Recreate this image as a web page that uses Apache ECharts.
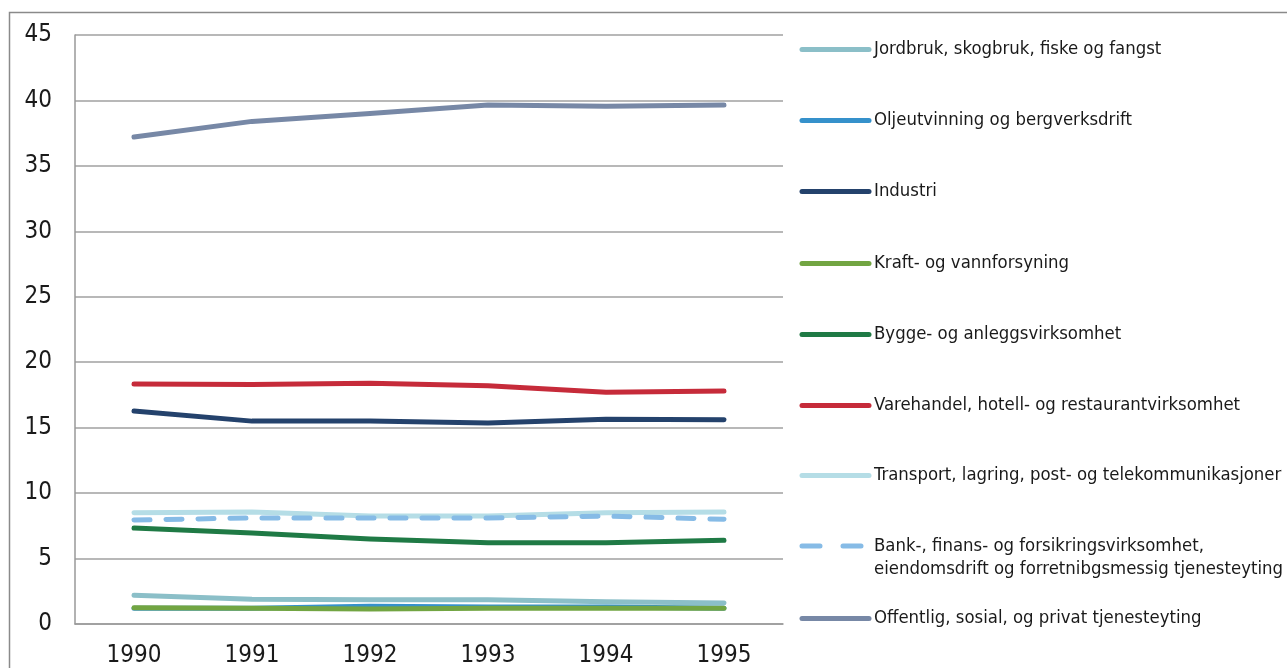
<!DOCTYPE html>
<html>
<head>
<meta charset="utf-8">
<script src="https://cdn.jsdelivr.net/npm/echarts@6/dist/echarts.min.js"></script>
<style>
  html, body { margin: 0; padding: 0; background: #fff; }
  #chart { width: 1287px; height: 668px; }
</style>
</head>
<body>
<div id="chart"></div>
<script>
  var years = ['1990', '1991', '1992', '1993', '1994', '1995'];

  var jordbruk   = [2.2, 1.9, 1.85, 1.85, 1.7, 1.6];
  var olje       = [1.2, 1.2, 1.35, 1.3, 1.3, 1.2];
  var industri   = [16.27, 15.5, 15.5, 15.35, 15.65, 15.6];
  var kraft      = [1.25, 1.2, 1.15, 1.2, 1.2, 1.2];
  var bygge      = [7.33, 6.95, 6.5, 6.2, 6.2, 6.4];
  var varehandel = [18.33, 18.3, 18.4, 18.2, 17.7, 17.8];
  var transport  = [8.5, 8.55, 8.25, 8.25, 8.5, 8.55];
  var bank       = [7.95, 8.1, 8.1, 8.1, 8.25, 8.0];
  var offentlig  = [37.2, 38.4, 39.0, 39.65, 39.55, 39.65];

  var names = [
    'Jordbruk, skogbruk, fiske og fangst',
    'Oljeutvinning og bergverksdrift',
    'Industri',
    'Kraft- og vannforsyning',
    'Bygge- og anleggsvirksomhet',
    'Varehandel, hotell- og restaurantvirksomhet',
    'Transport, lagring, post- og telekommunikasjoner',
    'Bank-, finans- og forsikringsvirksomhet,\neiendomsdrift og forretnibgsmessig tjenesteyting',
    'Offentlig, sosial, og privat tjenesteyting'
  ];
  var values = [jordbruk, olje, industri, kraft, bygge, varehandel, transport, bank, offentlig];
  var colors = ['#8bbfc8', '#3591cb', '#24426c', '#72a542', '#1f7a45', '#c62b3a', '#b5dde6', '#86bbe6', '#7788a6'];

  var font = "'Liberation Sans Narrow', 'DejaVu Sans Condensed', sans-serif";

  var series = names.map(function (n, i) {
    return {
      name: n,
      type: 'line',
      data: values[i],
      symbol: 'none',
      lineStyle: {
        width: 5,
        color: colors[i],
        cap: 'round',
        join: 'round',
        type: i === 7 ? [16, 16] : 'solid'
      },
      itemStyle: { color: colors[i] }
    };
  });

  // one legend per entry so the two-line label keeps the even spacing
  var legendTops = [38, 109, 180, 252, 323, 394, 464, 511.5, 607];
  var legends = names.map(function (n, i) {
    var item = { name: n };
    var leg = {
      data: [item],
      left: 799.5,
      top: legendTops[i],
      orient: 'vertical',
      padding: 0,
      itemWidth: 67,
      itemHeight: 20,
      itemGap: 0,
      selectedMode: false,
      itemStyle: { opacity: 0 },
      lineStyle: { width: 5, cap: 'round' },
      textStyle: { fontFamily: font, fontSize: 18.4, color: '#1a1a1a', lineHeight: 23 }
    };
    if (i === 7) {
      // blank first line puts the icon level with the first text line
      leg.formatter = function (name) { return '\n' + name; };
      item.lineStyle = { type: [18, 23] };
    }
    return leg;
  });

  var chart = echarts.init(document.getElementById('chart'));
  chart.setOption({
    animation: false,
    backgroundColor: '#fff',
    graphic: [{
      type: 'rect',
      shape: { x: 9.5, y: 12.5, width: 1300, height: 700 },
      style: { fill: 'none', stroke: '#8a8a8a', lineWidth: 1.5 },
      silent: true
    }],
    legend: legends,
    grid: { left: 75, top: 35, width: 708, height: 589, containLabel: false },
    xAxis: {
      type: 'category',
      data: years,
      boundaryGap: true,
      axisLine: { show: true, lineStyle: { color: '#999', width: 1.5 } },
      axisTick: { show: false },
      axisLabel: { fontFamily: font, fontSize: 24, color: '#1a1a1a', margin: 20 }
    },
    yAxis: {
      type: 'value',
      min: 0,
      max: 45,
      interval: 5,
      axisLine: { show: true, lineStyle: { color: '#999', width: 1.5 } },
      axisTick: { show: false },
      splitLine: { lineStyle: { color: '#a0a0a0', width: 1.5 } },
      axisLabel: { fontFamily: font, fontSize: 24, color: '#1a1a1a', margin: 23, padding: [5, 0, 0, 0] }
    },
    series: series
  });
</script>
</body>
</html>
